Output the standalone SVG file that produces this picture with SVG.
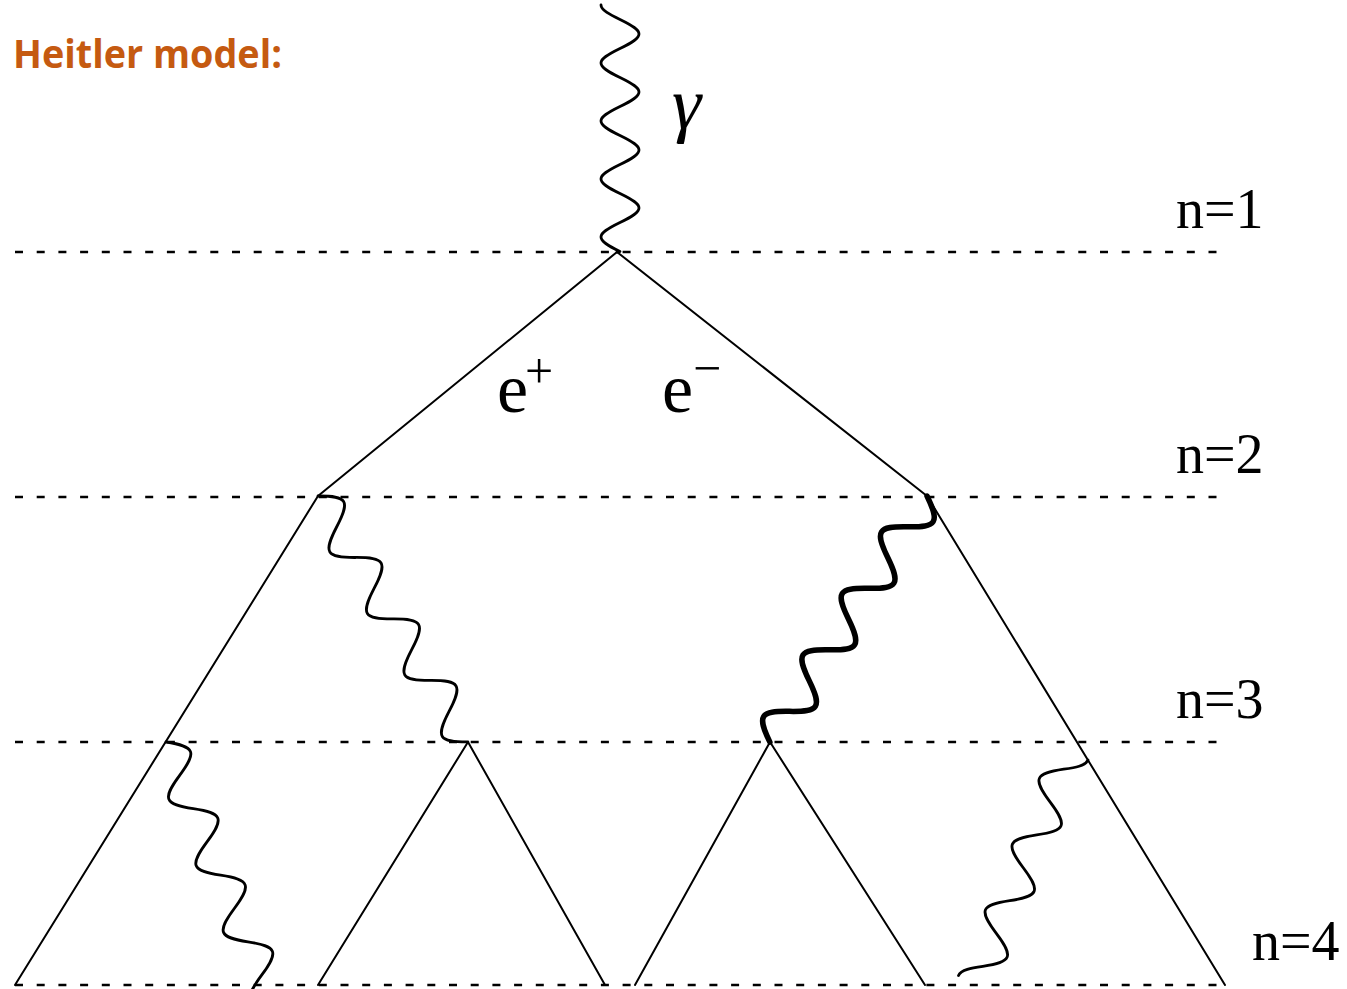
<svg xmlns="http://www.w3.org/2000/svg" width="1347" height="989" viewBox="0 0 1347 989">
<style>
.dash{stroke:#000;stroke-width:2.5;stroke-dasharray:8 13.7;fill:none}
.line{stroke:#000;stroke-width:2;fill:none;stroke-linecap:round}
.photon{stroke:#000;stroke-width:2.8;fill:none;stroke-linecap:round;stroke-linejoin:round}
.thick{stroke-width:5.5}
.lab{font-family:"Liberation Serif","Times New Roman",serif;fill:#000}
.title{font-family:"Open Sans","Lato",sans-serif;font-weight:bold;fill:#c55a11}
</style>
<defs>
<path id="w36" d="M0,0 c15.28,-25.33 20.72,-25.33 36,0 c15.28,25.33 20.72,25.33 36,0 c15.28,-25.33 20.72,-25.33 36,0 c15.28,25.33 20.72,25.33 36,0 c15.28,-25.33 20.72,-25.33 36,0 c15.28,25.33 20.72,25.33 36,0 c15.28,-25.33 20.72,-25.33 36,0 c15.28,25.33 20.72,25.33 36,0"/>
</defs>
<rect width="1347" height="989" fill="#fff"/>
<g id="title"><text class="title" x="13" y="68" font-size="40" textLength="269" lengthAdjust="spacingAndGlyphs">Heitler model:</text></g>
<g id="levels">
<line class="dash" x1="15" y1="252" x2="1220" y2="252"/>
<line class="dash" x1="15" y1="497" x2="1220" y2="497"/>
<line class="dash" x1="15" y1="742" x2="1220" y2="742"/>
<line class="dash" x1="15" y1="985" x2="1228" y2="985"/>
</g>
<g id="level-labels">
<text class="lab" x="1176" y="228" font-size="56">n=1</text>
<text class="lab" x="1176" y="473" font-size="56">n=2</text>
<text class="lab" x="1176" y="718" font-size="56">n=3</text>
<text class="lab" x="1252" y="960" font-size="56">n=4</text>
</g>
<g id="particle-labels">
<text class="lab" x="672" y="128" font-size="74" font-style="italic">γ</text>
<text class="lab" x="497" y="412" font-size="70">e<tspan font-size="50" dx="-3" dy="-24">+</tspan></text>
<text class="lab" x="662" y="412" font-size="70">e<tspan font-size="50" dx="0" dy="-27">−</tspan></text>
</g>
<g id="connectors">
<line class="line" x1="617" y1="252" x2="318" y2="496"/>
<line class="line" x1="617" y1="252" x2="927" y2="496"/>
<line class="line" x1="318" y1="496" x2="15" y2="985"/>
<line class="line" x1="927" y1="496" x2="1225" y2="985"/>
<line class="line" x1="468" y1="742" x2="318" y2="985"/>
<line class="line" x1="468" y1="742" x2="605" y2="985"/>
<line class="line" x1="770" y1="742" x2="635" y2="985"/>
<line class="line" x1="770" y1="742" x2="925" y2="985"/>
<path class="photon" transform="translate(620,5) rotate(90)" d="M0,19 C5.25,19 9.77,9.73 14.5,0 c12.31,-25.33 16.69,-25.33 29,0 c12.31,25.33 16.69,25.33 29,0 c12.31,-25.33 16.69,-25.33 29,0 c12.31,25.33 16.69,25.33 29,0 c12.31,-25.33 16.69,-25.33 29,0 c12.31,25.33 16.69,25.33 29,0 c12.31,-25.33 16.69,-25.33 29,0 c12.31,25.33 16.69,25.33 29,0 L247,3"/>
<use href="#w36" class="photon" transform="translate(318,496) rotate(58.63)"/>
<use href="#w36" class="photon" transform="translate(166,742) rotate(67.7)"/>
<path class="photon thick" transform="translate(927,496) rotate(122.55)" d="M0,0 c15.49,-25.33 21.01,-25.33 36.5,0 c15.49,25.33 21.01,25.33 36.5,0 c15.49,-25.33 21.01,-25.33 36.5,0 c15.49,25.33 21.01,25.33 36.5,0 c15.49,-25.33 21.01,-25.33 36.5,0 c15.49,25.33 21.01,25.33 36.5,0 c15.49,-25.33 21.01,-25.33 36.5,0 c15.49,25.33 21.01,25.33 36.5,0"/>
<path class="photon" transform="translate(1070.4,752.8) rotate(112.3)" d="M0,-19 C6.42,-19 11.96,-9.73 17.75,0 c15.07,25.33 20.43,25.33 35.5,0 c15.07,-25.33 20.43,-25.33 35.5,0 c15.07,25.33 20.43,25.33 35.5,0 c15.07,-25.33 20.43,-25.33 35.5,0 c15.07,25.33 20.43,25.33 35.5,0 c15.07,-25.33 20.43,-25.33 35.5,0 c5.79,9.73 11.33,19 17.75,19"/>
</g>
</svg>
